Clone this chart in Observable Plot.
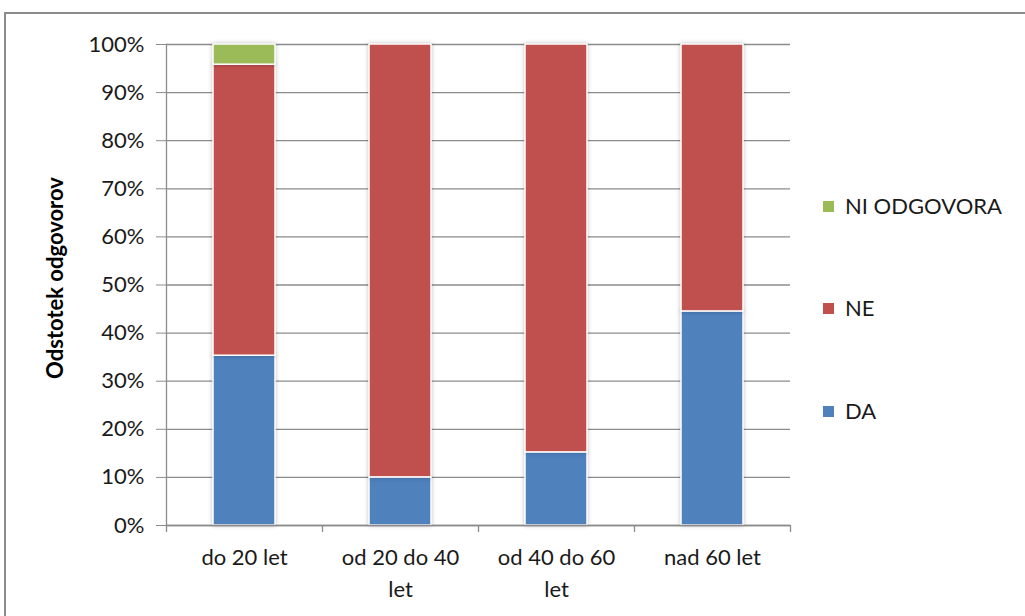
<!DOCTYPE html>
<html><head><meta charset="utf-8">
<script src="https://cdn.jsdelivr.net/npm/d3@7"></script>
<script src="https://cdn.jsdelivr.net/npm/@observablehq/plot@0.6"></script>
<style>
body{margin:0;background:#fff;}
#wrap{position:relative;width:1025px;height:616px;overflow:hidden;font-family:Lato,"Open Sans",sans-serif;}
#border{position:absolute;left:4px;top:12px;width:1100px;height:700px;border:2px solid #8c8c8c;box-sizing:border-box;}
#chart{position:absolute;left:0;top:0;}
.legend{position:absolute;left:823px;font-size:22px;color:#1a1a1a;display:flex;align-items:center;line-height:1;}
.legend span.sw{display:inline-block;width:11px;height:11px;margin-right:11px;}
</style></head>
<body>
<div id="wrap"><div id="border"></div><div id="chart"></div></div>
<script>
const categories = ["do 20 let","od 20 do 40 let","od 40 do 60 let","nad 60 let"];
const xTickLabels = ["do 20 let","od 20 do 40\nlet","od 40 do 60\nlet","nad 60 let"];
const series = ["DA","NE","NI ODGOVORA"];
const daValues = [35.3,10.0,15.2,44.5];
const neValues = [60.5,90.0,84.8,55.5];
const niValues = [4.2,0,0,0];
const yTicks = [0,10,20,30,40,50,60,70,80,90,100];
const colors = ["#4F81BD","#C0504D","#9BBB59"];
const yTitle = "Odstotek odgovorov";

const seriesValues = [daValues, neValues, niValues];
const data = [];
series.forEach((s, si) => categories.forEach((c, ci) => data.push({category: c, series: s, value: seriesValues[si][ci]})));

const W = 1025, H = 616, ML = 166, MR = 235, MT = 44, MB = 91;
const step = (W - ML - MR) / categories.length;

const plot = Plot.plot({
  width: W, height: H,
  marginLeft: ML, marginRight: MR, marginTop: MT, marginBottom: MB,
  style: {fontFamily: "Lato, 'Open Sans', sans-serif", background: "transparent", color: "#1a1a1a"},
  x: {domain: categories, paddingInner: 0.6, paddingOuter: 0.3, label: null},
  y: {domain: [0, 100], label: null},
  color: {domain: series, range: colors},
  marks: [
    Plot.gridY(yTicks, {stroke: "#8c8c8c", strokeOpacity: 1, strokeWidth: 1.3}),
    Plot.axisY(yTicks, {tickSize: 10, tickPadding: 12, fontSize: 22, stroke: "#8c8c8c", tickFormat: d => d + "%", label: null}),
    Plot.axisX({tickSize: 0, tickPadding: 17, fontSize: 22, lineHeight: 1.45, tickFormat: (d) => xTickLabels[categories.indexOf(d)], label: null}),
    Plot.barY(data, {x: "category", y: "value", fill: "series", order: series, stroke: "white", strokeWidth: 1.5}),
    Plot.ruleY([0], {stroke: "#8c8c8c", strokeWidth: 1.3}),
    Plot.frame({anchor: "left", stroke: "#8c8c8c", strokeWidth: 1.3}),
    Plot.ruleX(categories, {x: d => d, dx: -step / 2, y1: 0, y2: 0, insetBottom: -7, stroke: "#8c8c8c", strokeWidth: 1.3}),
    Plot.ruleX(categories.slice(-1), {x: d => d, dx: step / 2, y1: 0, y2: 0, insetBottom: -7, stroke: "#8c8c8c", strokeWidth: 1.3}),
    Plot.text([yTitle], {frameAnchor: "left", textAnchor: "middle", dx: -111, dy: -7, rotate: -90, fontWeight: "bold", fontSize: 22, fill: "#000"})
  ]
});
plot.querySelectorAll("g[aria-label='bar'] rect").forEach(r => r.style.filter = "drop-shadow(0px 0px 2px rgba(0,0,0,0.25))");
document.getElementById("chart").appendChild(plot);

const legendY = {"NI ODGOVORA": 206, "NE": 308, "DA": 411};
const wrap = document.getElementById("wrap");
series.slice().reverse().forEach(s => {
  const d = document.createElement("div");
  d.className = "legend";
  d.style.top = (legendY[s] - 11) + "px";
  d.style.height = "22px";
  d.innerHTML = `<span class="sw" style="background:${colors[series.indexOf(s)]}"></span>${s}`;
  wrap.appendChild(d);
});
</script>
</body></html>
